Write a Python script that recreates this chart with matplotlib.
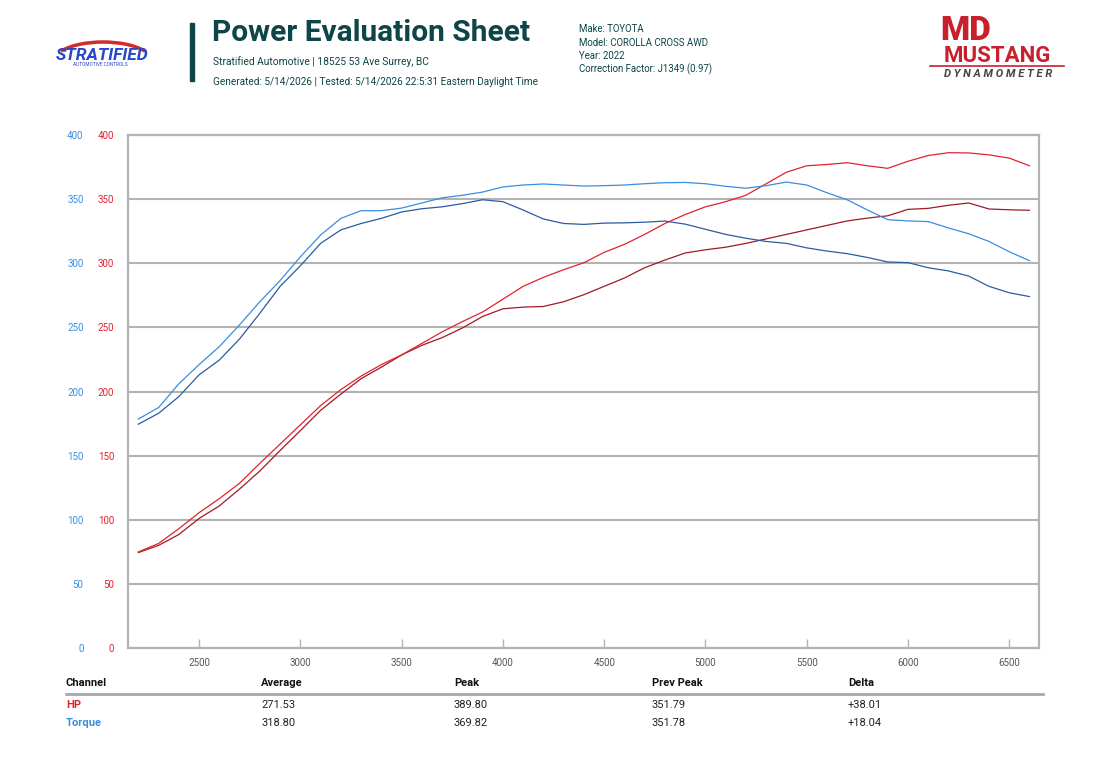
import numpy as np
import matplotlib.pyplot as plt
from matplotlib.patches import Rectangle, Arc
from matplotlib.lines import Line2D

# --- data ---
rpm = list(range(2200, 6700, 100))

hp_now = [74.9, 81.5, 93, 105.5, 116.5, 128.5, 144, 159, 174, 189,
          201.5, 212, 221, 228.5, 237.5, 246.5, 254.5, 262, 272, 282,
          289, 295, 300.4, 308.5, 314.7, 322.5, 331, 338, 344, 348,
          353, 362, 371, 376, 377, 378.4, 376, 374, 379.5, 384,
          386.2, 386, 384.5, 382, 376]
hp_prev = [74.4, 80, 88.5, 101, 110.8, 124, 138, 154, 169.5, 185.3,
           198, 210, 219, 228.5, 236, 242, 249.5, 258.5, 264.5, 265.8,
           266.3, 270, 275.5, 282, 288.5, 296.5, 302.5, 308, 310.5, 312.5,
           315.5, 319, 322.5, 326, 329.5, 333, 335.2, 337, 342, 342.8,
           345.2, 347, 342.3, 341.7, 341.3]
tq_now = [178.5, 187.5, 206, 221, 235, 252, 270, 286.5, 305, 322,
          335, 341, 341, 343, 347, 351, 353, 355.5, 359.5, 361,
          361.8, 361, 360.2, 360.5, 361, 362, 362.8, 363, 362, 360,
          358.5, 360.5, 363.3, 361, 355, 349.5, 341.5, 334, 333, 332.5,
          327.5, 323, 317, 309, 302]
tq_prev = [174.5, 183, 196, 213, 224.5, 241, 261, 282, 298, 315.5,
           326, 331, 335, 340, 342.5, 344, 346.5, 349.5, 348, 341.5,
           334.5, 331, 330.3, 331.3, 331.5, 332, 332.9, 330.5, 326.5, 322.5,
           319.5, 317, 315.5, 312, 309.5, 307.5, 304.5, 301, 300.5, 296.5,
           294, 290, 282, 277, 274]

x_ticks = [2500, 3000, 3500, 4000, 4500, 5000, 5500, 6000, 6500]
y_ticks = [0, 50, 100, 150, 200, 250, 300, 350, 400]

table_cols = ['Channel', 'Average', 'Peak', 'Prev Peak', 'Delta']
table_rows = [['HP', '271.53', '389.80', '351.79', '+38.01'],
              ['Torque', '318.80', '369.82', '351.78', '+18.04']]

info_lines = ['Make: TOYOTA', 'Model: COROLLA CROSS AWD', 'Year: 2022',
              'Correction Factor: J1349 (0.97)']

RED = '#e3222c'
DRED = '#9e1a26'
BLUE = '#3b8de0'
DBLUE = '#2b5c9e'
TEAL = '#0d4548'
GRID = '#b3b3b3'

plt.rcParams['font.family'] = ['Roboto', 'DejaVu Sans']

W, H = 1104, 778
fig = plt.figure(figsize=(W / 100, H / 100), dpi=100)


def fx(px):
    return px / W


def fy(py):
    return 1 - py / H


# --- header ---
fig.patches.append(Rectangle((fx(190), fy(81)), fx(4), 58 / H,
                             transform=fig.transFigure, color=TEAL))
fig.text(fx(212), fy(33), 'Power Evaluation Sheet', fontsize=21.5,
         fontweight='bold', color=TEAL, va='center', ha='left')
fig.text(fx(213), fy(62), 'Stratified Automotive | 18525 53 Ave Surrey, BC',
         fontsize=7.4, color=TEAL, va='center')
fig.text(fx(213), fy(82),
         'Generated: 5/14/2026 | Tested: 5/14/2026 22:5:31 Eastern Daylight Time',
         fontsize=7.2, color=TEAL, va='center')
for i, line in enumerate(info_lines):
    fig.text(fx(579), fy(29 + i * 13.5), line, fontsize=6.9, color=TEAL, va='center')

# Stratified logo (approximation)
fig.patches.append(Arc((fx(103), fy(62)), 100 / W, 40 / H, theta1=20, theta2=160,
                       transform=fig.transFigure, color='#d42a2a', lw=2.5))
fig.text(fx(102), fy(55), 'STRATIFIED', fontsize=12.5, fontweight='bold',
         fontstyle='italic', color='#2746c8', ha='center', va='center')
fig.text(fx(100), fy(65), 'AUTOMOTIVE CONTROLS', fontsize=3.4,
         color='#2746c8', ha='center', va='center')

# Mustang logo (approximation)
fig.text(fx(966), fy(31), 'MD', fontsize=24, fontweight='black',
         color='#c8202c', ha='center', va='center')
fig.text(fx(997), fy(56), 'MUSTANG', fontsize=16, fontweight='bold',
         color='#c8202c', ha='center', va='center')
fig.lines.append(Line2D([fx(930), fx(1064)], [fy(66), fy(66)],
                        transform=fig.transFigure, color='#c8202c', lw=1.2))
fig.text(fx(998), fy(74), 'D Y N A M O M E T E R', fontsize=8,
         fontstyle='italic', fontweight='bold', color='#444444',
         ha='center', va='center')

# --- chart ---
ax = fig.add_axes([fx(128), fy(648), (1039 - 128) / W, (648 - 135) / H])
ax.plot(rpm, hp_prev, color=DRED, lw=0.9)
ax.plot(rpm, tq_prev, color=DBLUE, lw=0.9)
ax.plot(rpm, hp_now, color=RED, lw=0.9)
ax.plot(rpm, tq_now, color=BLUE, lw=0.9)

ax.set_xlim(2149, 6647)
ax.set_ylim(0, 400)
ax.set_xticks(x_ticks)
ax.set_yticks(y_ticks)
ax.grid(axis='y', color=GRID, lw=1.5)
ax.set_axisbelow(True)
for s in ax.spines.values():
    s.set_color(GRID)
    s.set_linewidth(1.6)
ax.tick_params(axis='x', direction='in', length=6.5, width=1, color=GRID,
               labelsize=7, labelcolor='#555555', pad=7)
ax.tick_params(axis='y', length=0, labelsize=7, labelcolor=RED, pad=10)

ax2 = ax.twinx()
ax2.set_ylim(0, 400)
ax2.set_yticks(y_ticks)
ax2.yaxis.set_ticks_position('left')
ax2.tick_params(axis='y', length=0, labelsize=7, labelcolor=BLUE, pad=32)
for s in ax2.spines.values():
    s.set_visible(False)

# --- summary table ---
col_x = [66, 261, 454, 652, 848]
for cx, name in zip(col_x, table_cols):
    fig.text(fx(cx), fy(683), name, fontsize=8, fontweight='bold',
             color='#111111', va='center')
fig.lines.append(Line2D([fx(66), fx(1043)], [fy(694), fy(694)],
                        transform=fig.transFigure, color='#a8a8a8', lw=2))
row_colors = [RED, BLUE]
for r, (row, rc) in enumerate(zip(table_rows, row_colors)):
    yy = fy(705 + r * 18)
    fig.text(fx(col_x[0]), yy, row[0], fontsize=8, fontweight='bold', color=rc, va='center')
    for cx, val in zip(col_x[1:], row[1:]):
        fig.text(fx(cx), yy, val, fontsize=8, color='#222222', va='center')

fig.savefig('out.png', dpi=100)
